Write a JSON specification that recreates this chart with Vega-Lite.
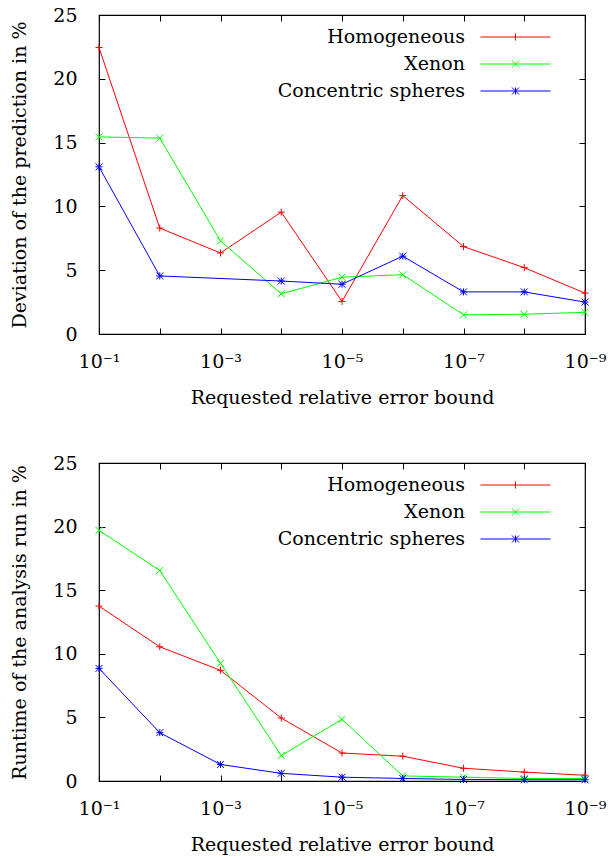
{
  "$schema": "https://vega.github.io/schema/vega-lite/v6.json",
  "padding": {"left": 10, "top": 5, "right": 5, "bottom": 5},
  "background": "white",
  "config": {
    "font": "DejaVu Serif",
    "view": {"stroke": "black", "strokeWidth": 1.2},
    "axis": {
      "grid": false, "domain": false, "tickColor": "black", "tickSize": -6, "tickWidth": 1,
      "labelFont": "DejaVu Serif", "labelFontSize": 19, "labelColor": "black",
      "titleFont": "DejaVu Serif", "titleFontSize": 19, "titleFontWeight": "normal", "titleColor": "black"
    },
    "legend": {
      "orient": "none", "legendX": 407, "legendY": 12.5, "padding": 0,
      "labelFont": "DejaVu Serif", "labelFontSize": 19, "labelColor": "black", "labelLimit": 400,
      "labelAlign": "right", "labelOffset": -60, "symbolSize": 49, "symbolStrokeWidth": 1,
      "rowPadding": 7, "title": null
    }
  },
  "datasets": {
    "d": [
      {"p": "a", "s": "Homogeneous", "eps": 1e-1, "v": 22.45},
      {"p": "a", "s": "Homogeneous", "eps": 1e-2, "v": 8.3},
      {"p": "a", "s": "Homogeneous", "eps": 1e-3, "v": 6.35},
      {"p": "a", "s": "Homogeneous", "eps": 1e-4, "v": 9.55},
      {"p": "a", "s": "Homogeneous", "eps": 1e-5, "v": 2.55},
      {"p": "a", "s": "Homogeneous", "eps": 1e-6, "v": 10.85},
      {"p": "a", "s": "Homogeneous", "eps": 1e-7, "v": 6.85},
      {"p": "a", "s": "Homogeneous", "eps": 1e-8, "v": 5.2},
      {"p": "a", "s": "Homogeneous", "eps": 1e-9, "v": 3.2},
      {"p": "a", "s": "Xenon", "eps": 1e-1, "v": 15.45},
      {"p": "a", "s": "Xenon", "eps": 1e-2, "v": 15.35},
      {"p": "a", "s": "Xenon", "eps": 1e-3, "v": 7.3},
      {"p": "a", "s": "Xenon", "eps": 1e-4, "v": 3.15},
      {"p": "a", "s": "Xenon", "eps": 1e-5, "v": 4.45},
      {"p": "a", "s": "Xenon", "eps": 1e-6, "v": 4.65},
      {"p": "a", "s": "Xenon", "eps": 1e-7, "v": 1.5},
      {"p": "a", "s": "Xenon", "eps": 1e-8, "v": 1.55},
      {"p": "a", "s": "Xenon", "eps": 1e-9, "v": 1.7},
      {"p": "a", "s": "Concentric spheres", "eps": 1e-1, "v": 13.1},
      {"p": "a", "s": "Concentric spheres", "eps": 1e-2, "v": 4.55},
      {"p": "a", "s": "Concentric spheres", "eps": 1e-4, "v": 4.15},
      {"p": "a", "s": "Concentric spheres", "eps": 1e-5, "v": 3.9},
      {"p": "a", "s": "Concentric spheres", "eps": 1e-6, "v": 6.1},
      {"p": "a", "s": "Concentric spheres", "eps": 1e-7, "v": 3.3},
      {"p": "a", "s": "Concentric spheres", "eps": 1e-8, "v": 3.3},
      {"p": "a", "s": "Concentric spheres", "eps": 1e-9, "v": 2.5},
      {"p": "b", "s": "Homogeneous", "eps": 1e-1, "v": 13.75},
      {"p": "b", "s": "Homogeneous", "eps": 1e-2, "v": 10.55},
      {"p": "b", "s": "Homogeneous", "eps": 1e-3, "v": 8.7},
      {"p": "b", "s": "Homogeneous", "eps": 1e-4, "v": 4.95},
      {"p": "b", "s": "Homogeneous", "eps": 1e-5, "v": 2.2},
      {"p": "b", "s": "Homogeneous", "eps": 1e-6, "v": 1.95},
      {"p": "b", "s": "Homogeneous", "eps": 1e-7, "v": 1.0},
      {"p": "b", "s": "Homogeneous", "eps": 1e-8, "v": 0.7},
      {"p": "b", "s": "Homogeneous", "eps": 1e-9, "v": 0.45},
      {"p": "b", "s": "Xenon", "eps": 1e-1, "v": 19.7},
      {"p": "b", "s": "Xenon", "eps": 1e-2, "v": 16.55},
      {"p": "b", "s": "Xenon", "eps": 1e-3, "v": 9.25},
      {"p": "b", "s": "Xenon", "eps": 1e-4, "v": 2.0},
      {"p": "b", "s": "Xenon", "eps": 1e-5, "v": 4.85},
      {"p": "b", "s": "Xenon", "eps": 1e-6, "v": 0.4},
      {"p": "b", "s": "Xenon", "eps": 1e-7, "v": 0.3},
      {"p": "b", "s": "Xenon", "eps": 1e-8, "v": 0.2},
      {"p": "b", "s": "Xenon", "eps": 1e-9, "v": 0.2},
      {"p": "b", "s": "Concentric spheres", "eps": 1e-1, "v": 8.85},
      {"p": "b", "s": "Concentric spheres", "eps": 1e-2, "v": 3.8},
      {"p": "b", "s": "Concentric spheres", "eps": 1e-3, "v": 1.3},
      {"p": "b", "s": "Concentric spheres", "eps": 1e-4, "v": 0.6},
      {"p": "b", "s": "Concentric spheres", "eps": 1e-5, "v": 0.3},
      {"p": "b", "s": "Concentric spheres", "eps": 1e-6, "v": 0.2},
      {"p": "b", "s": "Concentric spheres", "eps": 1e-7, "v": 0.12},
      {"p": "b", "s": "Concentric spheres", "eps": 1e-8, "v": 0.1},
      {"p": "b", "s": "Concentric spheres", "eps": 1e-9, "v": 0.1}
    ]
  },
  "spacing": 45,
  "resolve": {"legend": {"color": "independent"}},
  "vconcat": [
    {
      "width": 486, "height": 319,
      "data": {"name": "d"},
      "transform": [{"filter": "datum.p === 'a'"}],
      "layer": [
        {
          "mark": {"type": "line", "strokeWidth": 1},
          "encoding": {
            "x": {"field": "eps", "type": "quantitative",
              "scale": {"type": "log", "domain": [1e-9, 1e-1], "reverse": true, "nice": false},
              "axis": {"orient": "bottom", "values": [1e-1, 1e-2, 1e-3, 1e-4, 1e-5, 1e-6, 1e-7, 1e-8, 1e-9], "labelFlush": false, "labelOverlap": false, "labelPadding": 24, "titlePadding": 17,
                "labelExpr": "round(-log(datum.value)/LN10) % 2 === 1 ? '10⁻' + ['','¹','²','³','⁴','⁵','⁶','⁷','⁸','⁹'][round(-log(datum.value)/LN10)] : ''",
                "title": "Requested relative error bound"}},
            "y": {"field": "v", "type": "quantitative", "scale": {"domain": [0, 25], "nice": false},
              "axis": {"orient": "left", "values": [0, 5, 10, 15, 20, 25], "labelPadding": 28, "titlePadding": 23, "title": "Deviation of the prediction in %"}},
            "color": {"field": "s", "type": "nominal",
              "scale": {"domain": ["Homogeneous", "Xenon", "Concentric spheres"], "range": ["#ff0000", "#00ff00", "#0000ff"]},
              "legend": {"encode": {"symbols": {"update": {"fill": {"value": "transparent"}, "stroke": {"scale": "color", "field": "value"}, "shape": {"signal": "datum.value === 'Homogeneous' ? 'M-10,0H10M0,-1V1' : datum.value === 'Xenon' ? 'M-10,0H10M-1,-1L1,1M-1,1L1,-1' : 'M-10,0H10M0,-1V1M-1,-1L1,1M-1,1L1,-1'"}}}}}}
          }
        },
        {
          "mark": {"type": "point", "filled": false, "strokeWidth": 1, "size": 49, "opacity": 1},
          "encoding": {
            "x": {"field": "eps", "type": "quantitative",
              "scale": {"type": "log", "domain": [1e-9, 1e-1], "reverse": true, "nice": false},
              "axis": {"orient": "top", "values": [1e-1, 1e-2, 1e-3, 1e-4, 1e-5, 1e-6, 1e-7, 1e-8, 1e-9], "labels": false, "title": null}},
            "y": {"field": "v", "type": "quantitative", "scale": {"domain": [0, 25], "nice": false},
              "axis": {"orient": "right", "values": [0, 5, 10, 15, 20, 25], "labels": false, "title": null}},
            "color": {"field": "s", "type": "nominal", "legend": null},
            "shape": {"field": "s", "type": "nominal", "legend": null,
              "scale": {"domain": ["Homogeneous", "Xenon", "Concentric spheres"], "range": ["M-1,0H1M0,-1V1", "M-1,-1L1,1M-1,1L1,-1", "M-1,0H1M0,-1V1M-1,-1L1,1M-1,1L1,-1"]}}
          }
        }
      ]
    },
    {
      "width": 486, "height": 318,
      "data": {"name": "d"},
      "transform": [{"filter": "datum.p === 'b'"}],
      "layer": [
        {
          "mark": {"type": "line", "strokeWidth": 1},
          "encoding": {
            "x": {"field": "eps", "type": "quantitative",
              "scale": {"type": "log", "domain": [1e-9, 1e-1], "reverse": true, "nice": false},
              "axis": {"orient": "bottom", "values": [1e-1, 1e-2, 1e-3, 1e-4, 1e-5, 1e-6, 1e-7, 1e-8, 1e-9], "labelFlush": false, "labelOverlap": false, "labelPadding": 24, "titlePadding": 17,
                "labelExpr": "round(-log(datum.value)/LN10) % 2 === 1 ? '10⁻' + ['','¹','²','³','⁴','⁵','⁶','⁷','⁸','⁹'][round(-log(datum.value)/LN10)] : ''",
                "title": "Requested relative error bound"}},
            "y": {"field": "v", "type": "quantitative", "scale": {"domain": [0, 25], "nice": false},
              "axis": {"orient": "left", "values": [0, 5, 10, 15, 20, 25], "labelPadding": 28, "titlePadding": 23, "title": "Runtime of the analysis run in %"}},
            "color": {"field": "s", "type": "nominal",
              "scale": {"domain": ["Homogeneous", "Xenon", "Concentric spheres"], "range": ["#ff0000", "#00ff00", "#0000ff"]},
              "legend": {"encode": {"symbols": {"update": {"fill": {"value": "transparent"}, "stroke": {"scale": "color", "field": "value"}, "shape": {"signal": "datum.value === 'Homogeneous' ? 'M-10,0H10M0,-1V1' : datum.value === 'Xenon' ? 'M-10,0H10M-1,-1L1,1M-1,1L1,-1' : 'M-10,0H10M0,-1V1M-1,-1L1,1M-1,1L1,-1'"}}}}}}
          }
        },
        {
          "mark": {"type": "point", "filled": false, "strokeWidth": 1, "size": 49, "opacity": 1},
          "encoding": {
            "x": {"field": "eps", "type": "quantitative",
              "scale": {"type": "log", "domain": [1e-9, 1e-1], "reverse": true, "nice": false},
              "axis": {"orient": "top", "values": [1e-1, 1e-2, 1e-3, 1e-4, 1e-5, 1e-6, 1e-7, 1e-8, 1e-9], "labels": false, "title": null}},
            "y": {"field": "v", "type": "quantitative", "scale": {"domain": [0, 25], "nice": false},
              "axis": {"orient": "right", "values": [0, 5, 10, 15, 20, 25], "labels": false, "title": null}},
            "color": {"field": "s", "type": "nominal", "legend": null},
            "shape": {"field": "s", "type": "nominal", "legend": null,
              "scale": {"domain": ["Homogeneous", "Xenon", "Concentric spheres"], "range": ["M-1,0H1M0,-1V1", "M-1,-1L1,1M-1,1L1,-1", "M-1,0H1M0,-1V1M-1,-1L1,1M-1,1L1,-1"]}}
          }
        }
      ]
    }
  ]
}
